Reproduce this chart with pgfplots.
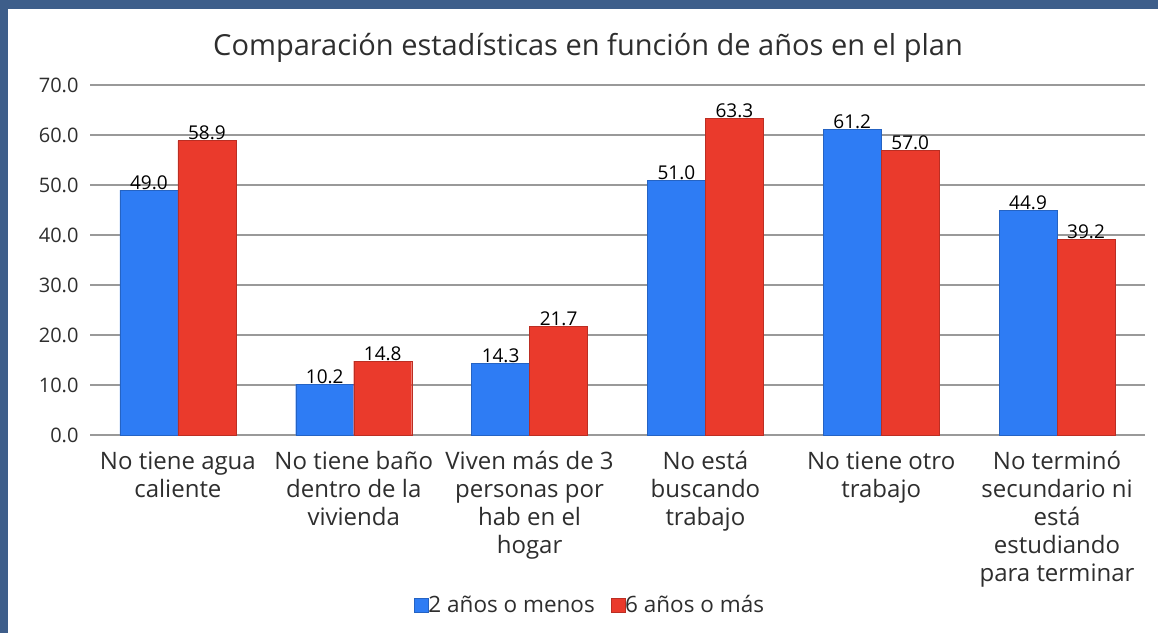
\documentclass[border=0pt]{standalone}
\usepackage{fontspec}
\setmainfont{Open Sans}
\usepackage{pgfplots}
\pgfplotsset{compat=1.18}
\definecolor{frame}{HTML}{3E5E8A}
\definecolor{cblue}{HTML}{2E7CF4}
\definecolor{cred}{HTML}{EA3A2C}
\definecolor{txt}{HTML}{2E2E2E}
\begin{document}
\begin{tikzpicture}
\fill[frame] (0pt,0pt) rectangle (1158pt,633pt);
\fill[white] (8pt,0pt) rectangle (1158pt,624pt);
\node[font=\fontsize{29}{32}\selectfont, text=txt] at (588pt,585pt) {Comparación estadísticas en función de años en el plan};
\begin{axis}[
  at={(90pt,198pt)}, anchor=south west,
  scale only axis, width=1055pt, height=350pt,
  xmin=-0.5, xmax=5.5, ymin=0, ymax=70,
  ybar=0pt, bar width=58pt,
  axis line style={draw=none},
  major tick length=0pt,
  ymajorgrids, grid style={black!40, line width=1.6pt},
  ytick={0,10,...,70},
  yticklabel style={font=\fontsize{20}{22}\selectfont, text=txt, xshift=-8pt},
  yticklabel={\pgfmathprintnumber[fixed,zerofill,precision=1,assume math mode=true]{\tick}},
  xtick={0,1,2,3,4,5},
  xticklabels={{No tiene agua\\caliente},{No tiene baño\\dentro de la\\vivienda},{Viven más de 3\\personas por\\hab en el\\hogar},{No está\\buscando\\trabajo},{No tiene otro\\trabajo},{No terminó\\secundario ni\\está\\estudiando\\para terminar}},
  xticklabel style={align=center, font=\fontsize{24}{28}\selectfont, text=txt, yshift=-13pt},
  nodes near coords={\pgfmathprintnumber[fixed,zerofill,precision=1,assume math mode=true]{\pgfplotspointmeta}},
  nodes near coords style={font=\fontsize{19}{22}\selectfont, text=black, yshift=-3pt},
  legend columns=2,
  legend style={at={(0.474,-0.486)}, anchor=center, draw=none, font=\fontsize{22.5}{24}\selectfont, text=txt, /tikz/every even column/.append style={column sep=14pt}, /tikz/every odd column/.append style={column sep=-2pt}},
  legend image code/.code={\fill[#1] (0pt,-7pt) rectangle (14pt,7pt);},
]
\addplot[fill=cblue, draw=cblue!80!black] coordinates {(0,49.0) (1,10.2) (2,14.3) (3,51.0) (4,61.2) (5,44.9)};
\addplot[fill=cred, draw=cred!80!black] coordinates {(0,58.9) (1,14.8) (2,21.7) (3,63.3) (4,57.0) (5,39.2)};
\legend{2 años o menos, 6 años o más}
\end{axis}
\end{tikzpicture}
\end{document}
